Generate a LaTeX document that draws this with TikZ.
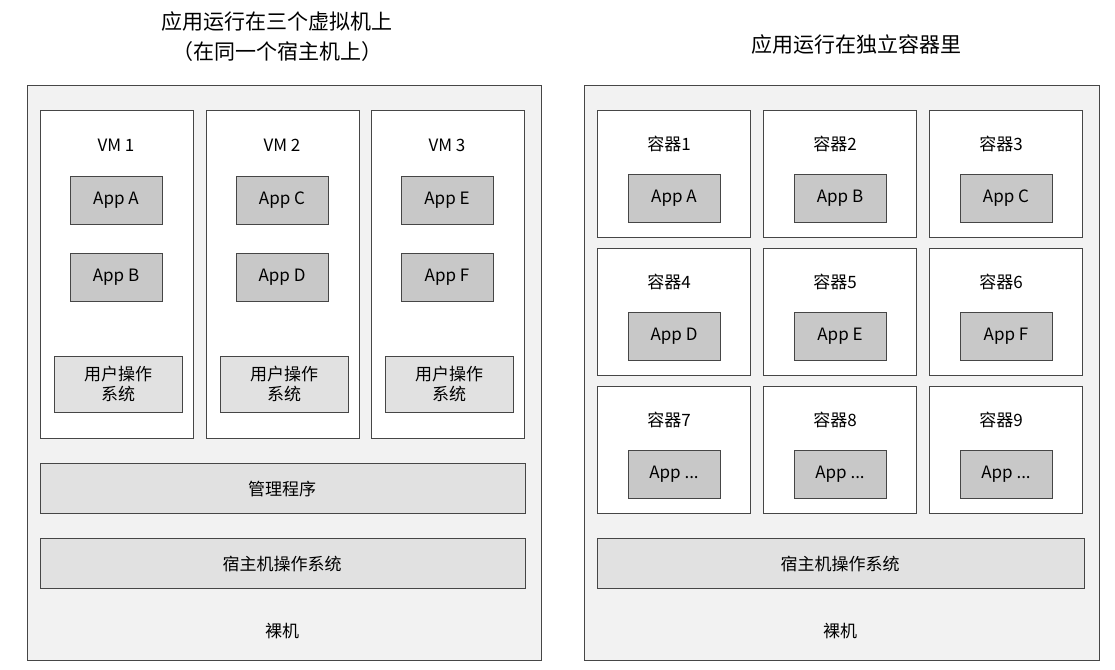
\documentclass[tikz,border=0pt]{standalone}
\usepackage{fontspec}
\setmainfont{Noto Sans CJK SC}
\usetikzlibrary{positioning}
\definecolor{outerfill}{RGB}{242,242,242}
\definecolor{appfill}{RGB}{200,200,200}
\definecolor{layerfill}{RGB}{225,225,225}
\definecolor{edgegray}{RGB}{70,70,70}
\newcommand{\appdots}{...}

\begin{document}
\begin{tikzpicture}[x=1pt,y=-1pt,
  outer/.style={draw=edgegray, fill=outerfill, line width=0.8pt},
  vmbox/.style={draw=edgegray, fill=white, line width=0.8pt},
  appbox/.style={draw=edgegray, fill=appfill, line width=0.8pt,
    minimum width=92pt, minimum height=48pt, inner sep=0pt,
    font=\fontsize{17}{20}\selectfont},
  osbox/.style={draw=edgegray, fill=layerfill, line width=0.8pt,
    minimum width=128pt, minimum height=56pt, inner sep=0pt, align=center,
    font=\fontsize{17}{20}\selectfont},
  layer/.style={draw=edgegray, fill=layerfill, line width=0.8pt},
  lbl/.style={font=\fontsize{17}{20}\selectfont},
  title/.style={font=\fontsize{21}{30}\selectfont, align=center}
]
\useasboundingbox (0,0) rectangle (1115,669);

% Titles
\node[title] (ltitle) at (277,37) {应用运行在三个虚拟机上\\（在同一个宿主机上）};
\node[title] (rtitle) at (856,45) {应用运行在独立容器里};

% Left: virtual machines
\draw[outer] (27,85) rectangle (541,660);
\foreach \i/\x/\a/\b in {1/40/A/B, 2/206/C/D, 3/371/E/F} {
  \draw[vmbox] (\x,110) rectangle +(153,328);
  \node[lbl] (vm\i) at (\x+76,145) {VM \i};
  \node[appbox] (app\a) at (\x+76,200) {App \a};
  \node[appbox] (app\b) at (\x+76,277) {App \b};
  \node[osbox] (guest\i) at (\x+78,384) {用户操作\\系统};
}
\draw[layer] (40,463) rectangle (525,513);
\node[lbl] (hyper) at (282,489) {管理程序};
\draw[layer] (40,538) rectangle (525,588);
\node[lbl] (lhost) at (282,564) {宿主机操作系统};
\node[lbl] (lmetal) at (282,631) {裸机};

% Right: containers
\draw[outer] (584,85) rectangle (1099,660);
\foreach \n/\c/\r/\a in {1/0/0/A, 2/1/0/B, 3/2/0/C, 4/0/1/D, 5/1/1/E, 6/2/1/F, 7/0/2/\appdots, 8/1/2/\appdots, 9/2/2/\appdots} {
  \pgfmathsetmacro{\cx}{597+166*\c}
  \pgfmathsetmacro{\cy}{110+138*\r}
  \draw[vmbox] (\cx,\cy) rectangle +(153,127);
  \node[lbl] (cname\n) at (\cx+72,\cy+34) {容器\n};
  \node[appbox] (capp\n) at (\cx+77,\cy+88) {App \a};
}
\draw[layer] (597,538) rectangle (1084,588);
\node[lbl] (rhost) at (840,564) {宿主机操作系统};
\node[lbl] (rmetal) at (840,631) {裸机};

\end{tikzpicture}
\end{document}
